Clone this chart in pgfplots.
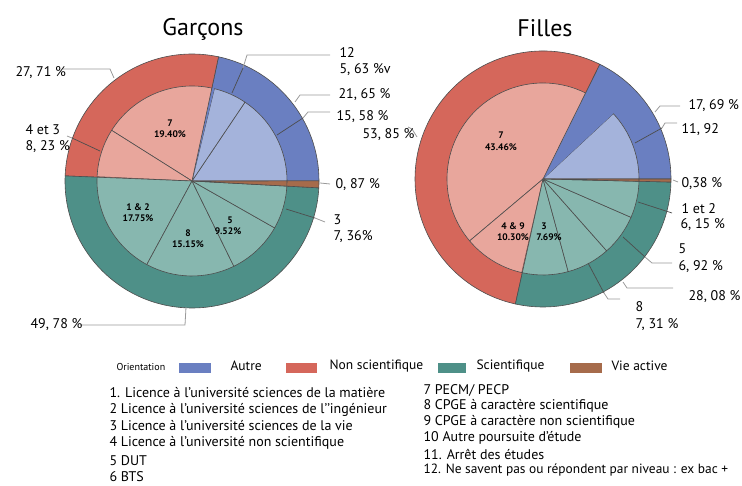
\documentclass[border=0pt]{standalone}
\usepackage{fontspec}
\setmainfont{PT Sans}
\usepackage{pgfplots}
\usepackage{pgfplotstable}
\pgfplotsset{compat=1.18}

\definecolor{autre}{HTML}{6A7FC1}
\definecolor{autreL}{HTML}{A4B3DB}
\definecolor{nonsci}{HTML}{D5675B}
\definecolor{nonsciL}{HTML}{E8A69C}
\definecolor{sci}{HTML}{4E9088}
\definecolor{sciL}{HTML}{87B7AF}
\definecolor{vie}{HTML}{A66B4B}
\definecolor{edgec}{HTML}{4D4D4D}
\definecolor{txt}{HTML}{231F20}
\definecolor{lead}{HTML}{9A9A9A}

% shares (%), counter-clockwise from 3 o'clock
\pgfplotstableread{
pct   col     edge
21.65 autre   edgec
27.71 nonsci  edgec
49.78 sci     edgec
0.87  vie     edgec
}\garconsOuter
\pgfplotstableread{
pct   col     edge
15.58 autreL  edgec
5.63  autreL  edgec
0.44  autre   none
19.40 nonsciL edgec
8.23  nonsciL edgec
0.08  nonsci  none
17.75 sciL    edgec
15.15 sciL    edgec
9.52  sciL    edgec
7.36  sciL    edgec
0.87  vie     edgec
}\garconsInner
\pgfplotstableread{
pct   col     edge
17.69 autre   edgec
53.85 nonsci  edgec
28.08 sci     edgec
0.38  vie     edgec
}\fillesOuter
\pgfplotstableread{
pct   col     edge
11.92 autreL  edgec
5.77  autre   none
43.46 nonsciL edgec
10.30 nonsciL edgec
0.09  nonsci  none
7.69  sciL    edgec
7.31  sciL    edgec
6.92  sciL    edgec
6.15  sciL    edgec
0.01  sci     none
0.38  vie     edgec
}\fillesInner

% #1 table, #2 cx, #3 cy, #4 radius
\newcommand\piechart[4]{%
  \gdef\curang{0}%
  \pgfplotstablegetrowsof{#1}%
  \pgfmathtruncatemacro\lastrow{\pgfplotsretval-1}%
  \foreach \i in {0,...,\lastrow}{%
    \pgfplotstablegetelem{\i}{pct}\of{#1}\let\pct\pgfplotsretval
    \pgfplotstablegetelem{\i}{col}\of{#1}\let\col\pgfplotsretval
    \pgfplotstablegetelem{\i}{edge}\of{#1}\let\edg\pgfplotsretval
    \pgfmathsetmacro\endang{\curang+3.6*\pct}%
    \filldraw[fill=\col,draw=\edg,line width=0.6pt,line join=round]
      (axis cs:#2,#3) -- ++(\curang:#4pt)
      arc[start angle=\curang,end angle=\endang,radius=#4pt] -- cycle;
    \xdef\curang{\endang}%
  }%
}
\newcommand\fs[1]{\fontsize{#1}{#1}\selectfont}

\begin{document}
\begin{tikzpicture}
\begin{axis}[
  x=1pt, y=1pt,
  xmin=0, xmax=742, ymin=0, ymax=486,
  y dir=reverse,
  hide axis,
  scale only axis,
  leader/.style={color=lead, line width=0.8pt, mark=none},
  leaderd/.style={color=edgec, line width=0.7pt, mark=none},
  every node/.style={text=txt, inner sep=0pt},
]
\pgfplotsextra{%
  \piechart{\garconsOuter}{192}{181}{127}%
  \piechart{\garconsInner}{192}{181}{95}%
  \piechart{\fillesOuter}{543}{179}{128}%
  \piechart{\fillesInner}{543}{179}{96}%
}

% titles
\node[font=\fs{24}] at (axis cs:203,29) {Garçons};
\node[font=\fs{24}] at (axis cs:545,28) {Filles};

% leader lines, garcons
\addplot[leader] coordinates {(63,69) (110,69) (114,78)};
\addplot[leader] coordinates {(67,136) (72,138)};
\addplot[leaderd] coordinates {(72,138) (100,151)};
\addplot[leader] coordinates {(80,325) (185,325) (186,307)};
\addplot[leader] coordinates {(330,55) (247,55) (243,68)};
\addplot[leaderd] coordinates {(243,68) (232,93)};
\addplot[leader] coordinates {(330,95) (300,95) (295,102)};
\addplot[leader] coordinates {(330,112) (308,112) (303,118)};
\addplot[leaderd] coordinates {(303,118) (277,135)};
\addplot[leader] coordinates {(320,183) (330,184)};
\addplot[leaderd] coordinates {(286,209) (315,218)};
\addplot[leader] coordinates {(315,218) (325,222)};

% leader lines, filles
\addplot[leader] coordinates {(408,127) (412,129) (417,137)};
\addplot[leader] coordinates {(680,106) (660,106) (655,112)};
\addplot[leader] coordinates {(677,123) (665,123) (662,128)};
\addplot[leaderd] coordinates {(662,128) (635,143)};
\addplot[leader] coordinates {(673,180) (678,182)};
\addplot[leaderd] coordinates {(638,202) (672,213)};
\addplot[leader] coordinates {(672,263) (652,263) (645,257)};
\addplot[leaderd] coordinates {(645,257) (623,237)};
\addplot[leader] coordinates {(673,288) (627,288) (623,282)};
\addplot[leader] coordinates {(620,299) (608,299) (604,293)};
\addplot[leaderd] coordinates {(604,293) (588,263)};

% outer labels, garcons
\begin{scope}[every node/.append style={font=\fs{14}, anchor=west}]
\node at (axis cs:12,73) {27, 71 \%};
\node at (axis cs:22,130) {4 et 3};
\node at (axis cs:22,147) {8, 23 \%};
\node at (axis cs:27,325) {49, 78 \%};
\node at (axis cs:336,53) {12};
\node at (axis cs:336,70) {5, 63 \%v};
\node at (axis cs:335,95) {21, 65 \%};
\node at (axis cs:333,117) {15, 58 \%};
\node at (axis cs:332,185) {0, 87 \%};
\node at (axis cs:330,220) {3};
\node at (axis cs:330,237) {7, 36\%};
% filles
\node at (axis cs:359,135) {53, 85 \%};
\node at (axis cs:685,106) {17, 69 \%};
\node at (axis cs:678,130) {11, 92};
\node at (axis cs:678,184) {0,38 \%};
\node at (axis cs:678,209) {1 et 2};
\node at (axis cs:677,225) {6, 15 \%};
\node at (axis cs:675,249) {5};
\node at (axis cs:675,267) {6, 92 \%};
\node at (axis cs:685,297) {28, 08 \%};
\node at (axis cs:632,307) {8};
\node at (axis cs:632,325) {7, 31 \%};
\end{scope}

% inner labels
\begin{scope}[every node/.append style={font=\fs{9.5}\bfseries}]
\node at (axis cs:170,123) {7};
\node at (axis cs:170,134) {19.40\%};
\node at (axis cs:138,207) {1 \& 2};
\node at (axis cs:138,218) {17.75\%};
\node at (axis cs:188,233) {8};
\node at (axis cs:188,244) {15.15\%};
\node at (axis cs:230,220) {5};
\node at (axis cs:228,231) {9.52\%};
\node at (axis cs:501,135) {7};
\node at (axis cs:501,147) {43.46\%};
\node at (axis cs:513,226) {4 \& 9};
\node at (axis cs:513,237) {10.30\%};
\node at (axis cs:544,226) {3};
\node at (axis cs:549,237) {7.69\%};
\end{scope}

% legend
\node[font=\fs{10}, anchor=west] at (axis cs:113,367) {Orientation};
\fill[autre]  (axis cs:179,363) rectangle (axis cs:211,373);
\fill[nonsci] (axis cs:286,363) rectangle (axis cs:317,373);
\fill[sci]    (axis cs:438,363) rectangle (axis cs:466,373);
\fill[vie]    (axis cs:570,363) rectangle (axis cs:602,373);
\begin{scope}[every node/.append style={font=\fs{13.5}, anchor=west}]
\node at (axis cs:227,366) {Autre};
\node at (axis cs:326,366) {Non scientifique};
\node at (axis cs:473,366) {Scientifique};
\node at (axis cs:608,366) {Vie active};
\end{scope}

% key of the numbers
\begin{scope}[every node/.append style={font=\fs{14}, anchor=west}]
\node at (axis cs:106,393) {1. Licence à l’université sciences de la matière};
\node at (axis cs:106,410) {2 Licence à l’université sciences de l’’ingénieur};
\node at (axis cs:106,426) {3 Licence à l’université sciences de la vie};
\node at (axis cs:106,443) {4 Licence à l’université non scientifique};
\node at (axis cs:106,461) {5 DUT};
\node at (axis cs:106,477) {6 BTS};
\node at (axis cs:420,390) {7 PECM/ PECP};
\node at (axis cs:420,406) {8 CPGE à caractère scientifique};
\node at (axis cs:420,422) {9 CPGE à caractère non scientifique};
\node at (axis cs:420,438) {10 Autre poursuite d’étude};
\node at (axis cs:420,454) {11. Arrêt des études};
\node[font=\fs{13.4}] at (axis cs:420,470) {12. Ne savent pas ou répondent par niveau : ex bac +};
\end{scope}

\coordinate (BL) at (rel axis cs:0,0);
\coordinate (TR) at (rel axis cs:1,1);
\end{axis}
\pgfresetboundingbox
\useasboundingbox (BL) rectangle (TR);
\end{tikzpicture}
\end{document}
